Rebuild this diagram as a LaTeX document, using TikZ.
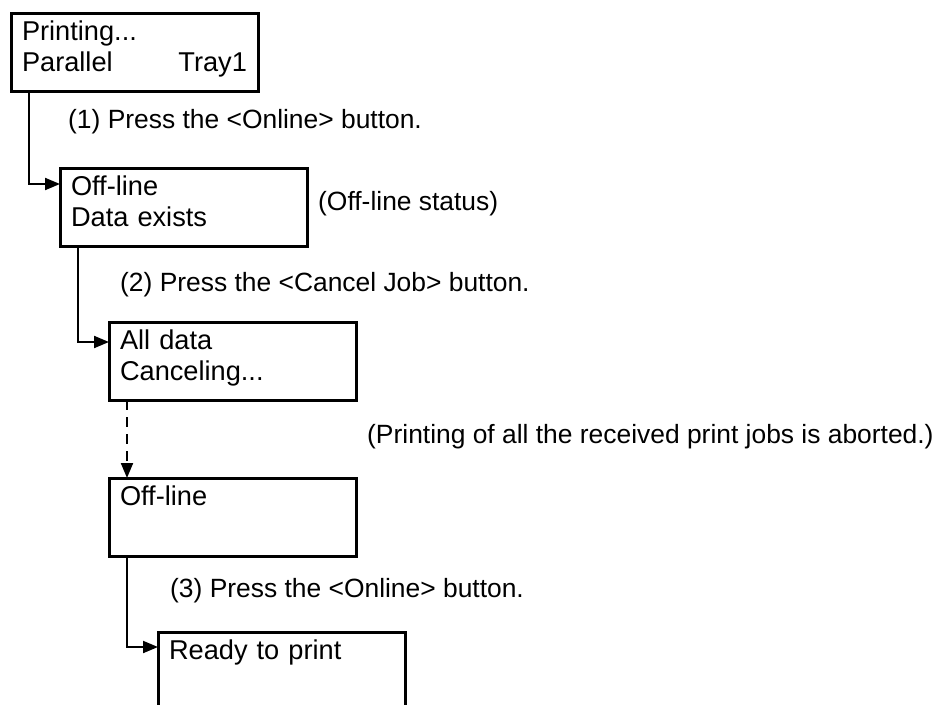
\documentclass[tikz,border=0pt]{standalone}
\usepackage{fontspec}
\setmainfont{Liberation Sans}
\usetikzlibrary{arrows.meta}

\begin{document}
\begin{tikzpicture}[x=1pt, y=-1pt, font=\fontsize{27.2}{31}\selectfont,
  panel/.style={draw, line width=3pt, anchor=north west, outer sep=0pt, inner xsep=11pt, inner ysep=0pt, text width=225pt, align=left, text height=27pt, text depth=51pt},
  link/.style={line width=2pt, -{Triangle[length=15pt, width=12pt]}},
  note/.style={anchor=base west, inner sep=0pt, font=\fontsize{26.4}{31}\selectfont}]
\useasboundingbox (0,0) rectangle (939,704);
\clip (0,0) rectangle (939,704);

\node[panel] (print) at (11,13) {Printing...\\Parallel\hfill Tray1};
\node[panel] (offline) at (60,168) {Off-line\\Data exists};
\node[panel] (cancel) at (109,322) {All data\\Canceling...};
\node[panel] (idle) at (109,478) {Off-line};
\node[panel] (ready) at (158,632) {Ready to print};

\draw[link] ([xshift=18pt]print.south west) |- ([yshift=-16pt]offline.north west);
\draw[link] ([xshift=18pt]offline.south west) |- ([yshift=-20pt]cancel.north west);
\draw[link, dash pattern=on 10pt off 7pt] ([xshift=18pt]cancel.south west) -- ([xshift=18pt]idle.north west);
\draw[link] ([xshift=18pt]idle.south west) |- ([yshift=-15pt]ready.north west);

\node[note] (step1) at (68,128) {(1) Press the <Online> button.};
\node[note] (status) at (318,210) {(Off-line status)};
\node[note] (step2) at (120,291) {(2) Press the <Cancel Job> button.};
\node[note] (abort) at (367,443) {(Printing of all the received print jobs is aborted.)};
\node[note] (step3) at (170,597) {(3) Press the <Online> button.};
\end{tikzpicture}
\end{document}
